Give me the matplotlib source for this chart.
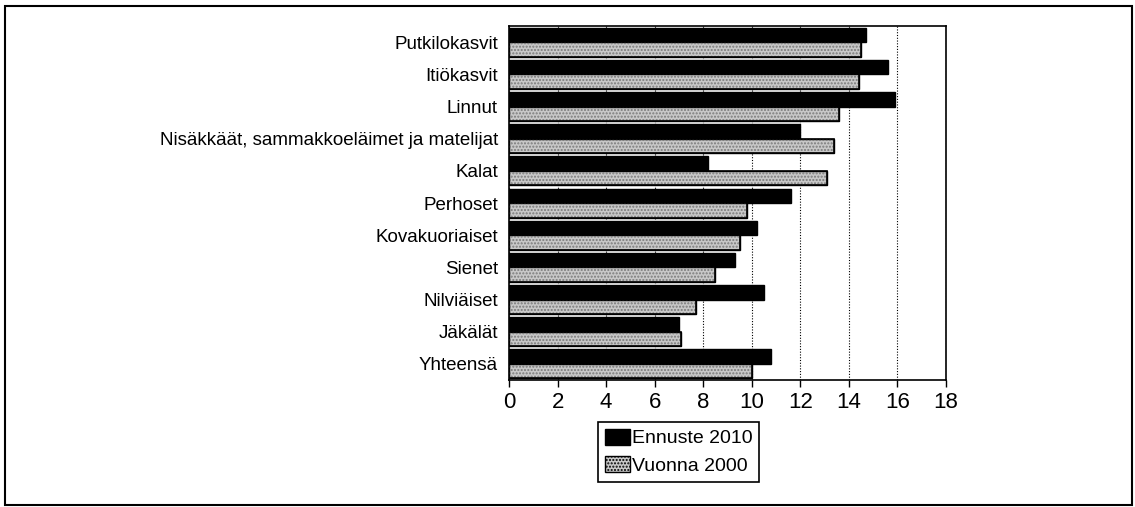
import numpy as np
import matplotlib.pyplot as plt
from matplotlib.patches import Rectangle, Patch

plt.rcParams['font.family'] = ['Liberation Sans', 'DejaVu Sans']

categories = ['Putkilokasvit', 'Itiökasvit', 'Linnut',
              'Nisäkkäät, sammakkoeläimet ja matelijat', 'Kalat', 'Perhoset',
              'Kovakuoriaiset', 'Sienet', 'Nilviäiset', 'Jäkälät', 'Yhteensä']
ennuste_2010 = [14.7, 15.6, 15.9, 12.0, 8.2, 11.6, 10.2, 9.3, 10.5, 7.0, 10.8]
vuonna_2000 = [14.5, 14.4, 13.6, 13.4, 13.1, 9.8, 9.5, 8.5, 7.7, 7.1, 10.0]
xticks = np.arange(0, 19, 2)

fig = plt.figure(figsize=(11.35, 5.07), dpi=100)
ax = fig.add_axes([0.4485, 0.2505, 0.385, 0.698])

y = np.arange(len(categories))
h = 0.45
ax.barh(y - h / 2, ennuste_2010, height=h, color='black', edgecolor='black',
        linewidth=1, zorder=3)
ax.barh(y + h / 2, vuonna_2000, height=h, color='#c8c8c8', edgecolor='black',
        linewidth=1, zorder=3)
ax.barh(y + h / 2, vuonna_2000, height=h, fill=False, hatch='.....',
        edgecolor='#7a7a7a', linewidth=0, zorder=4)
ax.barh(y + h / 2, vuonna_2000, height=h, fill=False, edgecolor='black',
        linewidth=1.2, zorder=5)

ax.set_xlim(0, 18)
ax.set_ylim(len(categories) - 0.5, -0.5)
ax.set_xticks(xticks)
ax.set_xticklabels([str(v) for v in xticks], fontsize=16)
ax.set_yticks(y)
ax.set_yticklabels(categories, fontsize=13.5)
ax.tick_params(axis='y', length=0, pad=8)
ax.tick_params(axis='x', direction='out', length=5, width=1, pad=4)
ax.xaxis.grid(True, linestyle=(0, (1, 1.5)), color='black', linewidth=0.8, zorder=0)
ax.set_axisbelow(True)
for s in ax.spines.values():
    s.set_linewidth(1.2)

handles = [Patch(facecolor='black', edgecolor='black'),
           Patch(facecolor='#c8c8c8', edgecolor='black', hatch='.....')]
leg = fig.legend(handles, ['Ennuste 2010', 'Vuonna 2000'], loc='center',
                 bbox_to_anchor=(0.598, 0.109), fancybox=False, edgecolor='black',
                 framealpha=1, handlelength=1.3, handleheight=0.9, handletextpad=0.1,
                 borderpad=0.35, labelspacing=0.45, fontsize=14)
leg.get_frame().set_linewidth(1.2)

fig.patches.append(Rectangle((0.0044, 0.004), 0.993, 0.984, transform=fig.transFigure,
                             fill=False, edgecolor='black', linewidth=1.5))

fig.savefig('out.png', dpi=100)
